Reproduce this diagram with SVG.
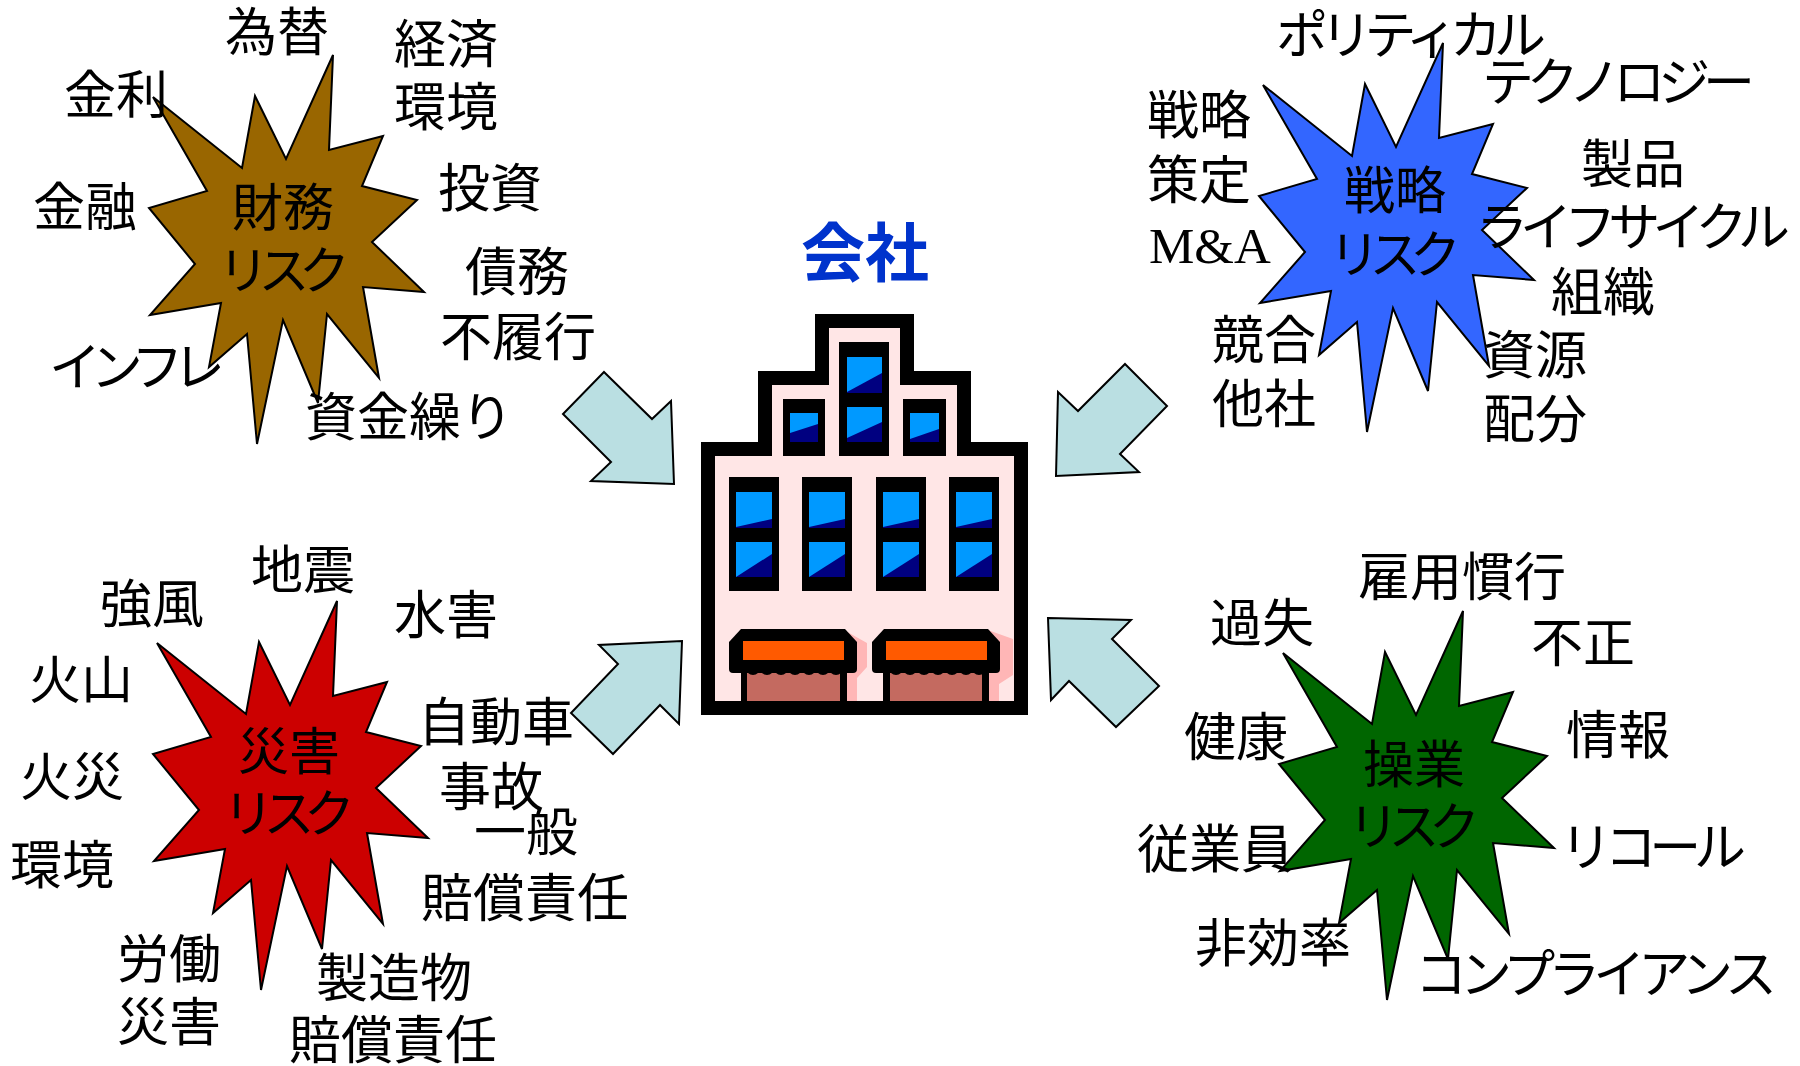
<svg xmlns="http://www.w3.org/2000/svg" xmlns:xlink="http://www.w3.org/1999/xlink" width="1800" height="1066" viewBox="0 0 1800 1066">
  <style>
    .lbl { font-family: "Noto Sans CJK JP", "Noto Sans CJK SC", sans-serif; font-size: 52px; fill: #000; }
    .ttl { font-family: "Noto Sans CJK JP", "Noto Sans CJK SC", sans-serif; font-size: 51px; fill: #000; text-anchor: middle; }
    .serif { font-family: "Liberation Serif", "Times New Roman", serif; font-size: 51px; fill: #000; }
    .burst { stroke: #000; stroke-width: 2; stroke-linejoin: miter; }
    .arrow { fill: #BADFE2; stroke: #000; stroke-width: 2; stroke-linejoin: miter; }
    .pane { fill: #0099FF; }
    .shade { fill: #000080; }
    .frame { fill: #000; }
  </style>
  <defs>
    <!-- explosion outline, origin at the top spike -->
    <path id="burst" d="M0,0 L-4,95 L50,81 L29,131 L84,145 L39,187 L91,237 L30,232 L46,323 L-6,259 L-15,348 L-50,265 L-76,389 L-86,279 L-124,312 L-112,248 L-183,260 L-138,209 L-184,153 L-126,136 L-180,42 L-91,113 L-78,41 L-47,104 Z"/>
    <!-- shop awning with scalloped edge -->
    <g id="awning">
      <path d="M729,642 L741,629 L845,629 L857,642 L857,669 Q857,673 853,673 L733,673 Q729,673 729,669 Z" fill="#000"/>
      <g fill="#000">
        <circle cx="753" cy="668" r="7"/><circle cx="767" cy="668" r="7"/><circle cx="781" cy="668" r="7"/>
        <circle cx="795" cy="668" r="7"/><circle cx="809" cy="668" r="7"/><circle cx="823" cy="668" r="7"/>
        <circle cx="836" cy="668" r="7"/>
      </g>
      <rect x="743" y="641" width="101" height="19" fill="#FF5A00"/>
    </g>
  </defs>

  <!-- connectors: block arrows pointing at the company -->
  <g id="connectors">
    <polygon class="arrow" points="604,372 652,419 671,401 674,484 591,481 611,462 563,414"/>
    <polygon class="arrow" points="1125,364 1167,406 1120,454 1139,472 1056,476 1058,392 1078,411"/>
    <polygon class="arrow" points="682,641 679,724 660,705 613,754 571,713 618,664 599,645"/>
    <polygon class="arrow" points="1048,618 1131,620 1112,639 1159,686 1116,727 1069,681 1051,700"/>
  </g>

  <!-- company -->
  <g id="company">
    <text x="865" y="276" font-family="'Noto Sans CJK JP', sans-serif" font-size="64" font-weight="700" fill="#0033CC" text-anchor="middle">会社</text>
    <polygon fill="#000" points="701,715 701,442 758,442 758,371 815,371 815,314 914,314 914,371 971,371 971,442 1028,442 1028,715"/>
    <polygon fill="#FFE6E6" points="715,701 715,456 772,456 772,385 829,385 829,328 900,328 900,385 957,385 957,456 1014,456 1014,701"/>
    <!-- upper windows -->
    <rect class="frame" x="783" y="399" width="42" height="57"/>
    <rect class="pane" x="790" y="413" width="28" height="29"/>
    <polygon class="shade" points="790,433 818,424 818,442 790,442"/>
    <rect class="frame" x="839" y="342" width="50" height="114"/>
    <rect class="pane" x="847" y="357" width="35" height="36"/>
    <polygon class="shade" points="847,392 882,373 882,393 847,393"/>
    <rect class="pane" x="847" y="407" width="35" height="35"/>
    <polygon class="shade" points="847,438 882,422 882,442 847,442"/>
    <rect class="frame" x="903" y="399" width="43" height="57"/>
    <rect class="pane" x="910" y="413" width="29" height="29"/>
    <polygon class="shade" points="910,439 939,429 939,442 910,442"/>
    <!-- main windows -->
    <g id="window">
      <rect class="frame" x="729" y="477" width="50" height="114"/>
      <rect class="pane" x="736" y="492" width="36" height="36"/>
      <polygon class="shade" points="736,527 772,519 772,528 736,528"/>
      <rect class="pane" x="736" y="542" width="36" height="35"/>
      <polygon class="shade" points="736,577 772,554 772,577"/>
    </g>
    <use xlink:href="#window" href="#window" transform="translate(73,0)"/>
    <use xlink:href="#window" href="#window" transform="translate(147,0)"/>
    <use xlink:href="#window" href="#window" transform="translate(220,0)"/>
    <!-- shop fronts -->
    <polygon fill="#FFB6B6" points="842,629 867,643 867,667 857,678 857,701 845,701 845,629"/>
    <polygon fill="#FFB6B6" points="985,629 1013,639 1013,675 999,684 999,701 988,701 988,629"/>
    <rect x="747" y="670" width="93" height="31" fill="#C46A60"/>
    <rect x="741" y="665" width="6" height="36" fill="#000"/>
    <rect x="840" y="665" width="7" height="36" fill="#000"/>
    <rect x="890" y="670" width="92" height="31" fill="#C46A60"/>
    <rect x="883" y="665" width="7" height="36" fill="#000"/>
    <rect x="982" y="665" width="7" height="36" fill="#000"/>
    <use xlink:href="#awning" href="#awning"/>
    <use xlink:href="#awning" href="#awning" transform="translate(143,0)"/>
  </g>

  <!-- financial risk -->
  <g id="financial-risk">
    <use xlink:href="#burst" href="#burst" class="burst" fill="#996600" transform="translate(333,55)"/>
    <text class="ttl" x="283" y="226">財務</text>
    <text class="ttl" x="284" y="289" textLength="132">リスク</text>
    <text class="lbl" x="225" y="51">為替</text>
    <text class="lbl" x="394" y="63">経済</text>
    <text class="lbl" x="394" y="126">環境</text>
    <text class="lbl" x="64" y="114">金利</text>
    <text class="lbl" x="33" y="226">金融</text>
    <text class="lbl" x="438" y="207">投資</text>
    <text class="lbl" x="465" y="291">債務</text>
    <text class="lbl" x="440" y="356">不履行</text>
    <text class="lbl" x="49" y="386" textLength="176">インフレ</text>
    <text class="lbl" x="305" y="436">資金繰り</text>
  </g>

  <!-- strategic risk -->
  <g id="strategic-risk">
    <use xlink:href="#burst" href="#burst" class="burst" fill="#3366FF" transform="translate(1443,43)"/>
    <text class="ttl" x="1395" y="209">戦略</text>
    <text class="ttl" x="1395" y="273" textLength="132">リスク</text>
    <text class="lbl" x="1276" y="54" textLength="270">ポリティカル</text>
    <text class="lbl" x="1482" y="101" textLength="273">テクノロジー</text>
    <text class="lbl" x="1147" y="134">戦略</text>
    <text class="lbl" x="1147" y="199">策定</text>
    <text class="serif" x="1149" y="263">M&amp;A</text>
    <text class="lbl" x="1581" y="183">製品</text>
    <text class="lbl" x="1476" y="246" textLength="314">ライフサイクル</text>
    <text class="lbl" x="1551" y="311">組織</text>
    <text class="lbl" x="1212" y="359">競合</text>
    <text class="lbl" x="1212" y="423">他社</text>
    <text class="lbl" x="1483" y="374">資源</text>
    <text class="lbl" x="1483" y="438">配分</text>
  </g>

  <!-- disaster risk -->
  <g id="disaster-risk">
    <use xlink:href="#burst" href="#burst" class="burst" fill="#CC0000" transform="translate(337,601)"/>
    <text class="ttl" x="289" y="770">災害</text>
    <text class="ttl" x="289" y="832" textLength="132">リスク</text>
    <text class="lbl" x="251" y="589">地震</text>
    <text class="lbl" x="100" y="623">強風</text>
    <text class="lbl" x="394" y="634">水害</text>
    <text class="lbl" x="29" y="699">火山</text>
    <text class="lbl" x="20" y="796">火災</text>
    <text class="lbl" x="10" y="884">環境</text>
    <text class="lbl" x="418" y="741">自動車</text>
    <text class="lbl" x="439" y="806">事故</text>
    <text class="lbl" x="474" y="851">一般</text>
    <text class="lbl" x="421" y="917">賠償責任</text>
    <text class="lbl" x="117" y="978">労働</text>
    <text class="lbl" x="117" y="1041">災害</text>
    <text class="lbl" x="316" y="997">製造物</text>
    <text class="lbl" x="289" y="1059">賠償責任</text>
  </g>

  <!-- operational risk -->
  <g id="operational-risk">
    <use xlink:href="#burst" href="#burst" class="burst" fill="#006600" transform="translate(1463,611)"/>
    <text class="ttl" x="1414" y="783">操業</text>
    <text class="ttl" x="1414" y="845" textLength="132">リスク</text>
    <text class="lbl" x="1358" y="596">雇用慣行</text>
    <text class="lbl" x="1210" y="642">過失</text>
    <text class="lbl" x="1531" y="662">不正</text>
    <text class="lbl" x="1184" y="756">健康</text>
    <text class="lbl" x="1566" y="754">情報</text>
    <text class="lbl" x="1137" y="868">従業員</text>
    <text class="lbl" x="1560" y="866" textLength="186">リコール</text>
    <text class="lbl" x="1195" y="962">非効率</text>
    <text class="lbl" x="1415" y="993" textLength="362">コンプライアンス</text>
  </g>
</svg>
